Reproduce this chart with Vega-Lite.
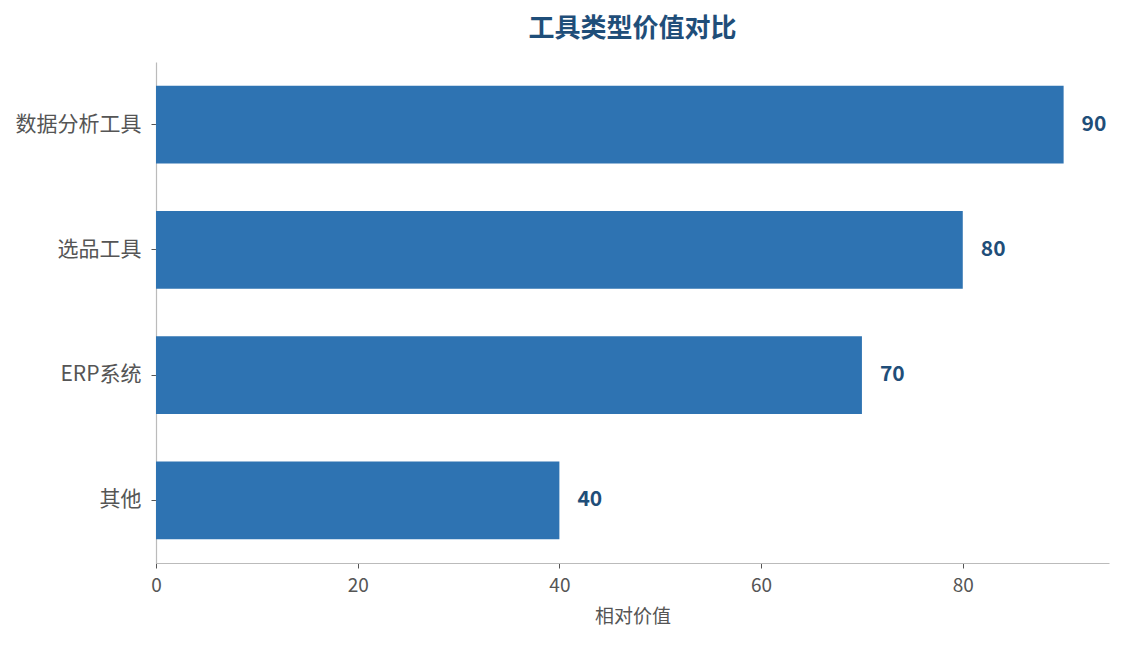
{
  "$schema": "https://vega.github.io/schema/vega-lite/v6.json",
  "width": 953,
  "height": 501,
  "autosize": {"type": "none"},
  "padding": {"left": 156, "top": 62, "right": 15, "bottom": 82},
  "title": {
    "text": "工具类型价值对比",
    "font": "Noto Sans CJK SC",
    "fontSize": 26,
    "fontWeight": "bold",
    "color": "#1F4E79",
    "anchor": "middle",
    "offset": 20
  },
  "config": {
    "view": {"stroke": null},
    "font": "Noto Sans CJK SC"
  },
  "data": {
    "values": [
      {"tool": "数据分析工具", "value": 90},
      {"tool": "选品工具", "value": 80},
      {"tool": "ERP系统", "value": 70},
      {"tool": "其他", "value": 40}
    ]
  },
  "encoding": {
    "y": {
      "field": "tool",
      "type": "nominal",
      "sort": null,
      "title": null,
      "scale": {"paddingInner": 0.38, "paddingOuter": 0.19},
      "axis": {
        "labelFont": "Noto Sans CJK SC",
        "labelFontSize": 21,
        "labelColor": "#555555",
        "labelPadding": 10,
        "domainColor": "#bbbbbb",
        "domainWidth": 1.2,
        "tickColor": "#555555",
        "tickSize": 5
      }
    },
    "x": {
      "field": "value",
      "type": "quantitative",
      "title": "相对价值",
      "scale": {"domain": [0, 94.5], "nice": false, "zero": true},
      "axis": {
        "values": [0, 20, 40, 60, 80],
        "grid": false,
        "labelFlush": false,
        "labelFont": "Noto Sans CJK SC",
        "labelFontSize": 19,
        "labelColor": "#555555",
        "labelPadding": 8,
        "titleFont": "Noto Sans CJK SC",
        "titleFontSize": 19,
        "titleFontWeight": "normal",
        "titleColor": "#555555",
        "titlePadding": 12,
        "domainColor": "#bbbbbb",
        "domainWidth": 1.2,
        "tickColor": "#555555",
        "tickSize": 5
      }
    }
  },
  "layer": [
    {
      "mark": {"type": "bar", "color": "#2E73B2"}
    },
    {
      "mark": {
        "type": "text",
        "align": "left",
        "baseline": "middle",
        "dx": 18,
        "font": "Noto Sans CJK SC",
        "fontSize": 21,
        "fontWeight": "bold",
        "color": "#1F4E79"
      },
      "encoding": {
        "text": {"field": "value", "type": "quantitative"}
      }
    }
  ]
}
